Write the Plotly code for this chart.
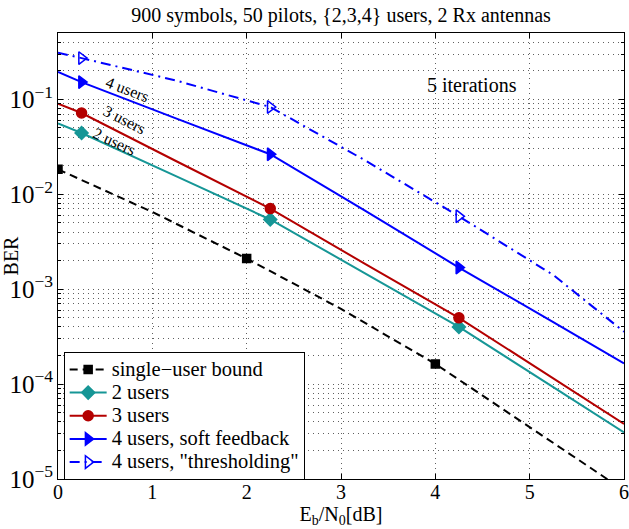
import plotly.graph_objects as go

# ---- data ----
x_su = [0, 1, 2, 3, 4, 5, 6]
ber_su = [0.0183, 0.0065, 0.0021, 6.2e-4, 1.63e-4, 3.5e-5, 7.6e-6]
su_marker_idx = [0, 2, 4]

x_mu = [0, 0.25, 1.25, 2.25, 3.25, 4.25, 5.25, 6]
ber_2u = [0.0558, 0.0442, 0.0155, 0.00542, 0.00148, 4.0e-4, 9.3e-5, 3.1e-5]
ber_3u = [0.090, 0.0718, 0.0224, 0.00706, 0.00186, 4.99e-4, 1.15e-4, 3.8e-5]
ber_4u_soft = [0.194, 0.152, 0.063, 0.0264, 0.00676, 0.00169, 4.5e-4, 1.65e-4]
ber_4u_thr = [0.31, 0.272, 0.158, 0.083, 0.0229, 0.00586, 0.00141, 3.56e-4]
mu_marker_idx = [1, 3, 5]

series = [
    ("single\u2212user bound", x_su, ber_su, su_marker_idx, "#000000", "8px,5px", "square", 8),
    ("2 users", x_mu, ber_2u, mu_marker_idx, "#169696", "solid", "diamond", 10),
    ("3 users", x_mu, ber_3u, mu_marker_idx, "#b40000", "solid", "circle", 10),
    ("4 users, soft feedback", x_mu, ber_4u_soft, mu_marker_idx, "#0000ff", "solid", "triangle-right", 11),
    ("4 users, \"thresholding\"", x_mu, ber_4u_thr, mu_marker_idx, "#0000ff", "10px,5px,2px,5px", "triangle-right-open", 11),
]

FONT = "Liberation Serif"

fig = go.Figure()
for i, (name, xs, ys, midx, color, dash, sym, msz) in enumerate(series):
    g = f"g{i}"
    fig.add_trace(go.Scatter(x=xs, y=ys, mode="lines", line=dict(color=color, width=2, dash=dash),
                             showlegend=False, legendgroup=g, hoverinfo="skip"))
    fig.add_trace(go.Scatter(x=[xs[k] for k in midx], y=[ys[k] for k in midx], mode="markers",
                             marker=dict(symbol=sym, size=msz, color=color,
                                         line=dict(color=color, width=1.5)),
                             showlegend=False, legendgroup=g))
    fig.add_trace(go.Scatter(x=[None], y=[None], mode="lines+markers",
                             name=f'<span style="font-size:20.5px">{name}</span>', legendgroup=g,
                             line=dict(color=color, width=2, dash=dash),
                             marker=dict(symbol=sym, size=msz, color=color,
                                         line=dict(color=color, width=1.5))))

# curve labels
labels = [("4 users", 0.74, -0.892, 21), ("3 users", 0.70, -1.215, 27), ("2 users", 0.60, -1.445, 25)]
for txt, lx, ly, ang in labels:
    fig.add_annotation(x=lx, y=ly, xref="x", yref="y", text=txt, showarrow=False, textangle=ang,
                       font=dict(family=FONT, size=16, color="black"))
fig.add_annotation(x=4.39, y=-0.853, xref="x", yref="y", text="5 iterations", showarrow=False,
                   font=dict(family=FONT, size=20, color="black"))

grid = dict(showgrid=True, gridcolor="#606060", griddash="1px,4px", gridwidth=1)
fig.update_xaxes(range=[0, 6], dtick=1, tick0=0, ticks="inside", ticklen=5, tickcolor="black",
                 showline=True, linecolor="black", linewidth=1, mirror="ticks", zeroline=False,
                 automargin=False, ticklabelstandoff=-5,
                 tickfont=dict(family=FONT, size=20, color="black"),
                 title=dict(text="E<sub>b</sub>/N<sub>0</sub>[dB]", font=dict(family=FONT, size=20, color="black"),
                            standoff=0),
                 **grid)
fig.update_yaxes(type="log", range=[-5, -0.30103], dtick=1, exponentformat="power", showexponent="all",
                 ticks="inside", ticklen=5, tickcolor="black",
                 showline=True, linecolor="black", linewidth=1, mirror="ticks", zeroline=False,
                 automargin=False,
                 tickfont=dict(family=FONT, size=20, color="black"),
                 title=dict(text="BER", font=dict(family=FONT, size=20, color="black"), standoff=4),
                 minor=dict(dtick="D1", ticks="inside", ticklen=3, tickcolor="black",
                            showgrid=True, gridcolor="#606060", griddash="1px,4px", gridwidth=1),
                 **grid)

fig.update_layout(
    width=629, height=529,
    margin=dict(l=58, r=5, t=33, b=50),
    paper_bgcolor="white", plot_bgcolor="white",
    title=dict(text="900 symbols, 50 pilots, {2,3,4} users, 2 Rx antennas", x=0.5, xref="paper",
               xanchor="center", y=1 - 15 / 529, yanchor="middle", yref="container",
               font=dict(family=FONT, size=20, color="black")),
    legend=dict(x=0.01, y=0.285, xanchor="left", yanchor="top", bgcolor="white",
                bordercolor="black", borderwidth=1, tracegroupgap=0, itemwidth=37,
                font=dict(family=FONT, size=15.5, color="black")),
    showlegend=True,
)

fig.write_html("out.html")
